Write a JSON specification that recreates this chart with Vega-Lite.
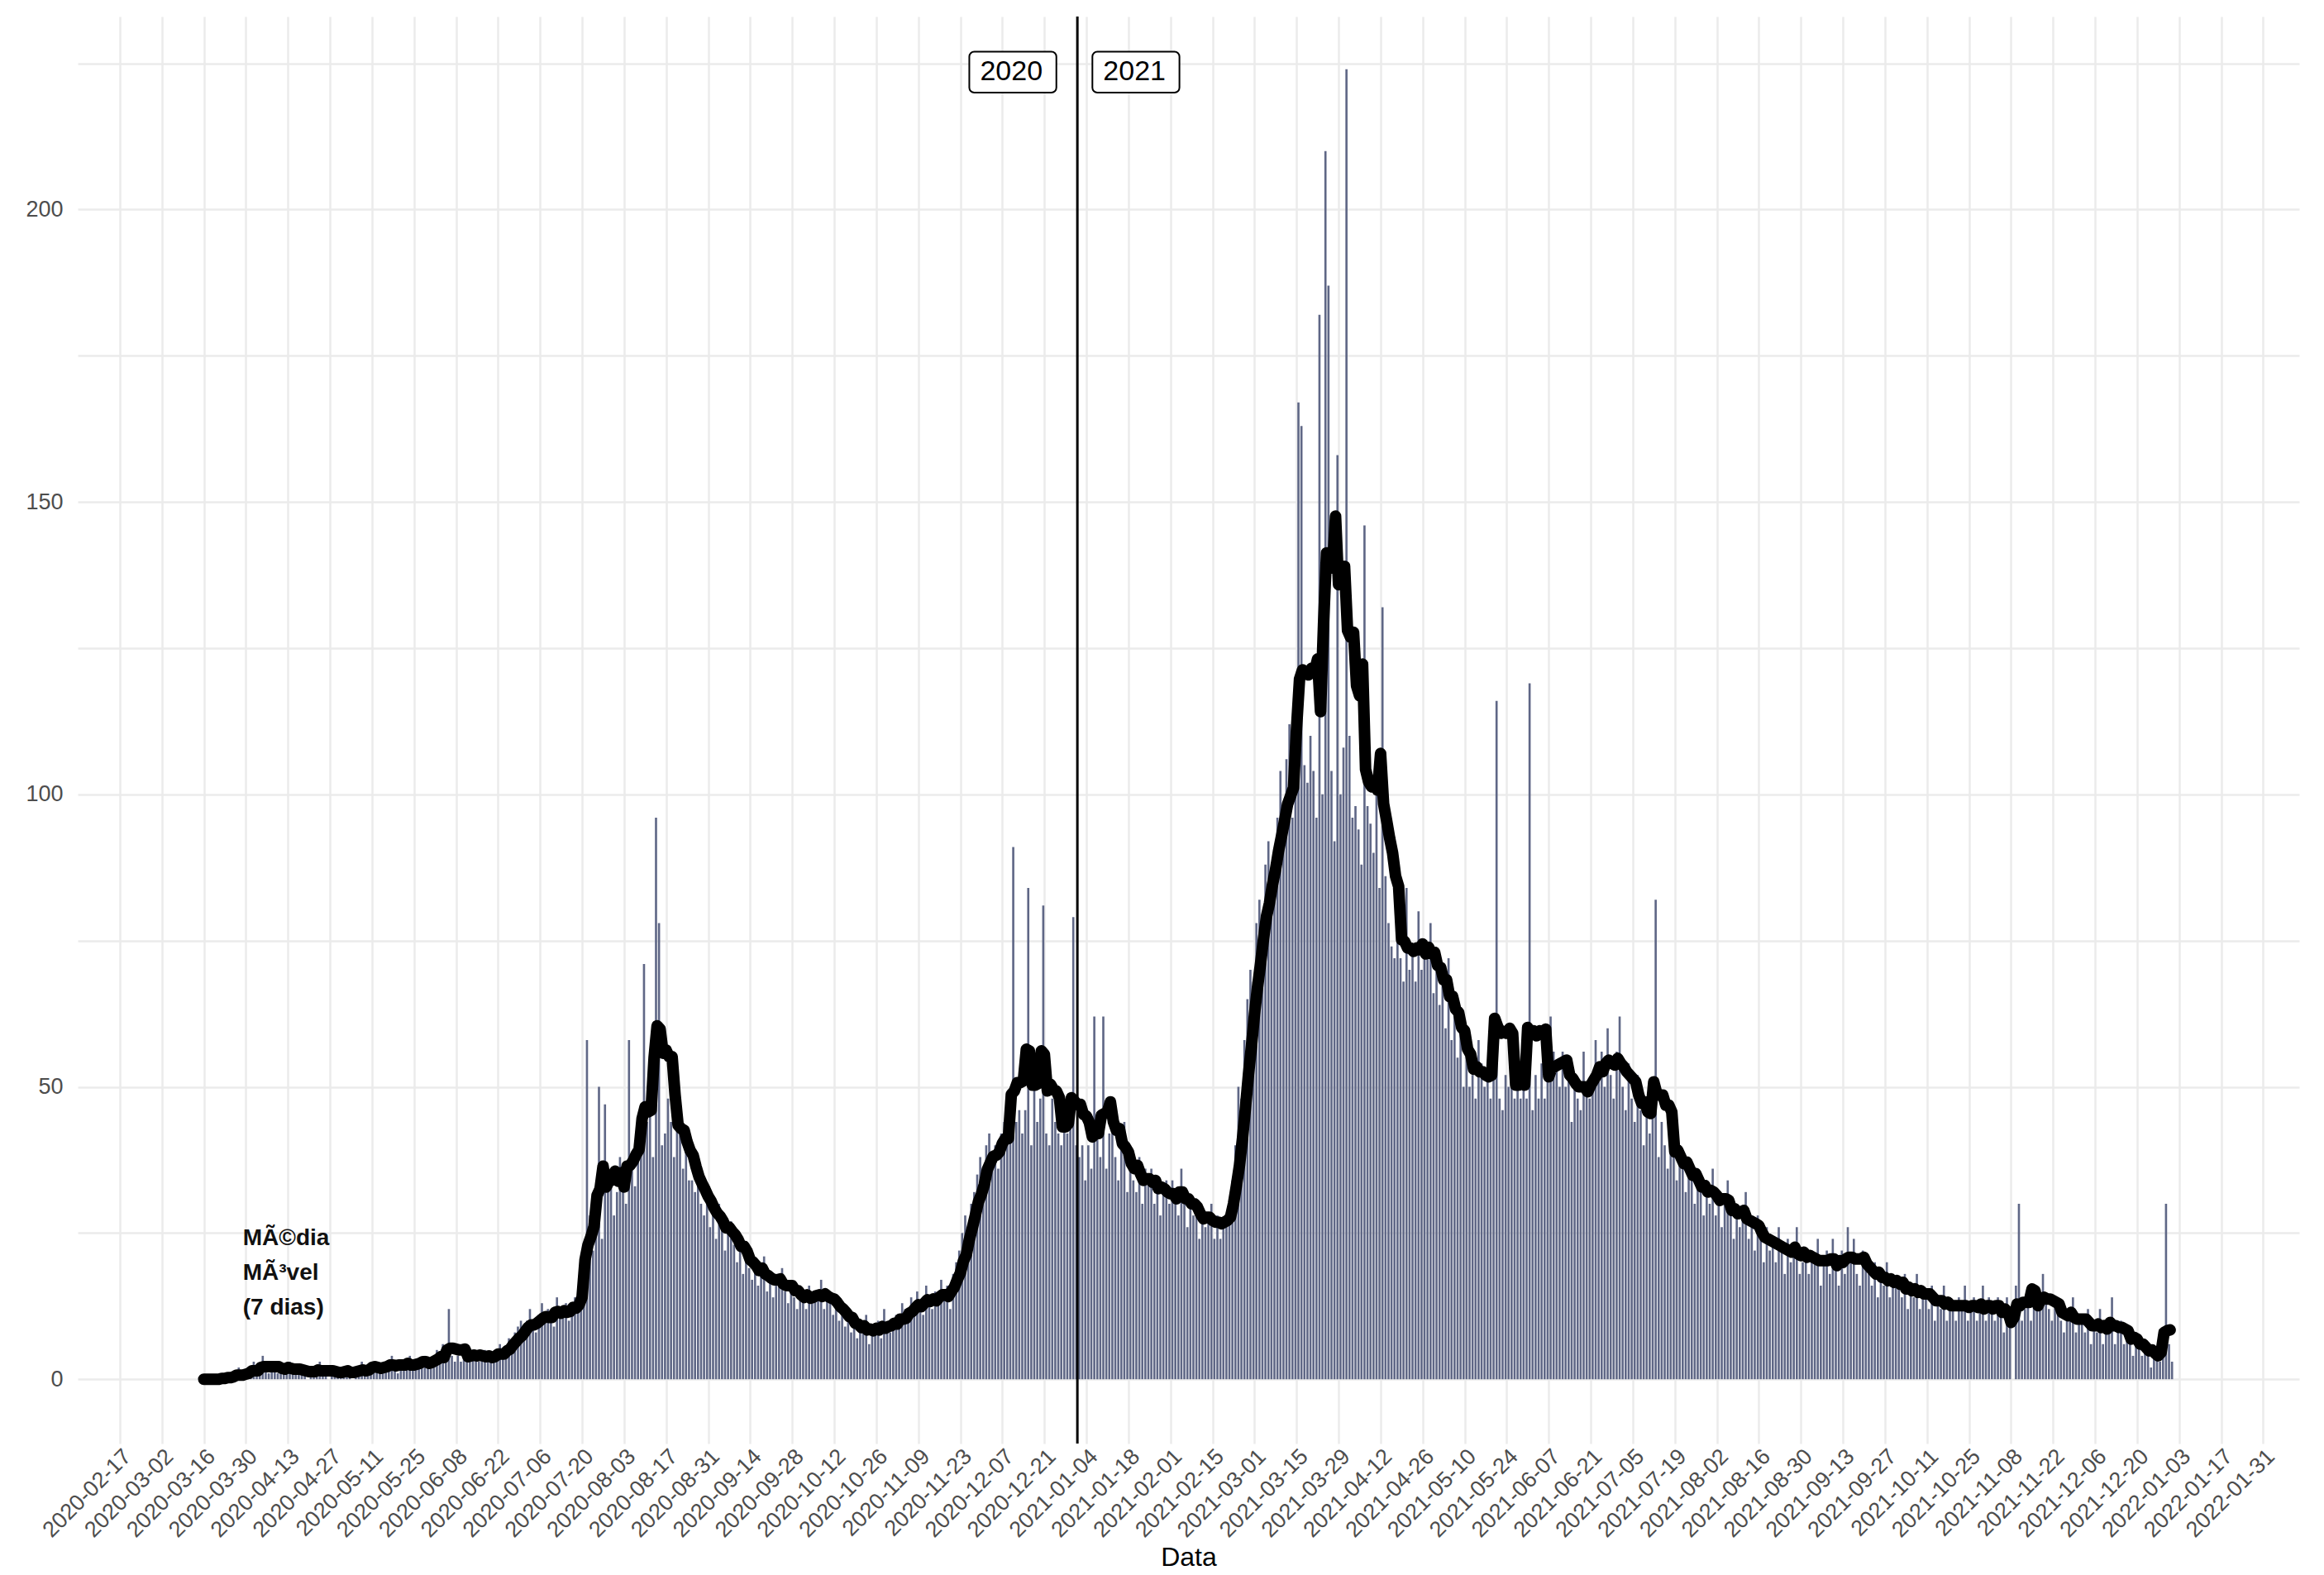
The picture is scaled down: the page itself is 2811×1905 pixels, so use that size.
{
  "$schema": "https://vega.github.io/schema/vega-lite/v6.json",
  "width": 2811,
  "height": 1905,
  "autosize": {"type": "fit", "contains": "padding"},
  "padding": {"left": 30, "right": 30, "top": 18, "bottom": 5},
  "background": "white",
  "config": {
    "view": {"stroke": null},
    "font": "Liberation Sans",
    "axis": {"gridColor": "#ebebeb", "gridWidth": 2.5, "domain": false, "ticks": false, "labelColor": "#4d4d4d", "labelFontSize": 27}
  },
  "datasets": {
    "daily": [
{"d":"2020-03-16","v":0},{"d":"2020-03-17","v":0},{"d":"2020-03-18","v":0},{"d":"2020-03-19","v":0},{"d":"2020-03-20","v":0},{"d":"2020-03-21","v":0},{"d":"2020-03-22","v":1},{"d":"2020-03-23","v":0},{"d":"2020-03-24","v":1},{"d":"2020-03-25","v":0},{"d":"2020-03-26","v":1},{"d":"2020-03-27","v":2},{"d":"2020-03-28","v":0},{"d":"2020-03-29","v":1},{"d":"2020-03-30","v":1},{"d":"2020-03-31","v":2},
{"d":"2020-04-01","v":3},{"d":"2020-04-02","v":1},{"d":"2020-04-03","v":2},{"d":"2020-04-04","v":4},{"d":"2020-04-05","v":2},{"d":"2020-04-06","v":1},{"d":"2020-04-07","v":2},{"d":"2020-04-08","v":3},{"d":"2020-04-09","v":1},{"d":"2020-04-10","v":2},{"d":"2020-04-11","v":2},{"d":"2020-04-12","v":1},{"d":"2020-04-13","v":3},{"d":"2020-04-14","v":1},{"d":"2020-04-15","v":2},{"d":"2020-04-16","v":1},{"d":"2020-04-17","v":2},{"d":"2020-04-18","v":1},{"d":"2020-04-19","v":0},{"d":"2020-04-20","v":2},{"d":"2020-04-21","v":1},{"d":"2020-04-22","v":2},{"d":"2020-04-23","v":3},{"d":"2020-04-24","v":1},{"d":"2020-04-25","v":1},{"d":"2020-04-26","v":0},{"d":"2020-04-27","v":2},{"d":"2020-04-28","v":1},{"d":"2020-04-29","v":1},{"d":"2020-04-30","v":2},
{"d":"2020-05-01","v":1},{"d":"2020-05-02","v":2},{"d":"2020-05-03","v":1},{"d":"2020-05-04","v":0},{"d":"2020-05-05","v":1},{"d":"2020-05-06","v":2},{"d":"2020-05-07","v":3},{"d":"2020-05-08","v":2},{"d":"2020-05-09","v":1},{"d":"2020-05-10","v":2},{"d":"2020-05-11","v":3},{"d":"2020-05-12","v":2},{"d":"2020-05-13","v":1},{"d":"2020-05-14","v":2},{"d":"2020-05-15","v":3},{"d":"2020-05-16","v":2},{"d":"2020-05-17","v":4},{"d":"2020-05-18","v":3},{"d":"2020-05-19","v":1},{"d":"2020-05-20","v":2},{"d":"2020-05-21","v":2},{"d":"2020-05-22","v":3},{"d":"2020-05-23","v":4},{"d":"2020-05-24","v":2},{"d":"2020-05-25","v":3},{"d":"2020-05-26","v":2},{"d":"2020-05-27","v":3},{"d":"2020-05-28","v":4},{"d":"2020-05-29","v":3},{"d":"2020-05-30","v":2},{"d":"2020-05-31","v":3},
{"d":"2020-06-01","v":5},{"d":"2020-06-02","v":4},{"d":"2020-06-03","v":6},{"d":"2020-06-04","v":3},{"d":"2020-06-05","v":12},{"d":"2020-06-06","v":4},{"d":"2020-06-07","v":3},{"d":"2020-06-08","v":4},{"d":"2020-06-09","v":3},{"d":"2020-06-10","v":6},{"d":"2020-06-11","v":4},{"d":"2020-06-12","v":3},{"d":"2020-06-13","v":5},{"d":"2020-06-14","v":4},{"d":"2020-06-15","v":3},{"d":"2020-06-16","v":4},{"d":"2020-06-17","v":5},{"d":"2020-06-18","v":3},{"d":"2020-06-19","v":4},{"d":"2020-06-20","v":3},{"d":"2020-06-21","v":5},{"d":"2020-06-22","v":6},{"d":"2020-06-23","v":4},{"d":"2020-06-24","v":5},{"d":"2020-06-25","v":7},{"d":"2020-06-26","v":6},{"d":"2020-06-27","v":8},{"d":"2020-06-28","v":9},{"d":"2020-06-29","v":10},{"d":"2020-06-30","v":7},
{"d":"2020-07-01","v":10},{"d":"2020-07-02","v":12},{"d":"2020-07-03","v":9},{"d":"2020-07-04","v":8},{"d":"2020-07-05","v":11},{"d":"2020-07-06","v":13},{"d":"2020-07-07","v":10},{"d":"2020-07-08","v":12},{"d":"2020-07-09","v":11},{"d":"2020-07-10","v":9},{"d":"2020-07-11","v":14},{"d":"2020-07-12","v":12},{"d":"2020-07-13","v":11},{"d":"2020-07-14","v":13},{"d":"2020-07-15","v":10},{"d":"2020-07-16","v":12},{"d":"2020-07-17","v":14},{"d":"2020-07-18","v":13},{"d":"2020-07-19","v":16},{"d":"2020-07-20","v":20},{"d":"2020-07-21","v":58},{"d":"2020-07-22","v":28},{"d":"2020-07-23","v":22},{"d":"2020-07-24","v":26},{"d":"2020-07-25","v":50},{"d":"2020-07-26","v":24},{"d":"2020-07-27","v":47},{"d":"2020-07-28","v":33},{"d":"2020-07-29","v":35},{"d":"2020-07-30","v":28},{"d":"2020-07-31","v":32},
{"d":"2020-08-01","v":38},{"d":"2020-08-02","v":34},{"d":"2020-08-03","v":30},{"d":"2020-08-04","v":58},{"d":"2020-08-05","v":36},{"d":"2020-08-06","v":33},{"d":"2020-08-07","v":40},{"d":"2020-08-08","v":44},{"d":"2020-08-09","v":71},{"d":"2020-08-10","v":44},{"d":"2020-08-11","v":52},{"d":"2020-08-12","v":38},{"d":"2020-08-13","v":96},{"d":"2020-08-14","v":78},{"d":"2020-08-15","v":40},{"d":"2020-08-16","v":42},{"d":"2020-08-17","v":48},{"d":"2020-08-18","v":44},{"d":"2020-08-19","v":38},{"d":"2020-08-20","v":50},{"d":"2020-08-21","v":42},{"d":"2020-08-22","v":36},{"d":"2020-08-23","v":40},{"d":"2020-08-24","v":34},{"d":"2020-08-25","v":34},{"d":"2020-08-26","v":32},{"d":"2020-08-27","v":36},{"d":"2020-08-28","v":30},{"d":"2020-08-29","v":28},{"d":"2020-08-30","v":33},{"d":"2020-08-31","v":26},
{"d":"2020-09-01","v":28},{"d":"2020-09-02","v":24},{"d":"2020-09-03","v":30},{"d":"2020-09-04","v":26},{"d":"2020-09-05","v":22},{"d":"2020-09-06","v":25},{"d":"2020-09-07","v":27},{"d":"2020-09-08","v":23},{"d":"2020-09-09","v":20},{"d":"2020-09-10","v":24},{"d":"2020-09-11","v":18},{"d":"2020-09-12","v":22},{"d":"2020-09-13","v":19},{"d":"2020-09-14","v":17},{"d":"2020-09-15","v":20},{"d":"2020-09-16","v":16},{"d":"2020-09-17","v":18},{"d":"2020-09-18","v":21},{"d":"2020-09-19","v":15},{"d":"2020-09-20","v":17},{"d":"2020-09-21","v":14},{"d":"2020-09-22","v":18},{"d":"2020-09-23","v":16},{"d":"2020-09-24","v":19},{"d":"2020-09-25","v":15},{"d":"2020-09-26","v":13},{"d":"2020-09-27","v":17},{"d":"2020-09-28","v":14},{"d":"2020-09-29","v":12},{"d":"2020-09-30","v":16},
{"d":"2020-10-01","v":14},{"d":"2020-10-02","v":12},{"d":"2020-10-03","v":16},{"d":"2020-10-04","v":13},{"d":"2020-10-05","v":15},{"d":"2020-10-06","v":14},{"d":"2020-10-07","v":17},{"d":"2020-10-08","v":12},{"d":"2020-10-09","v":15},{"d":"2020-10-10","v":13},{"d":"2020-10-11","v":11},{"d":"2020-10-12","v":14},{"d":"2020-10-13","v":10},{"d":"2020-10-14","v":12},{"d":"2020-10-15","v":9},{"d":"2020-10-16","v":11},{"d":"2020-10-17","v":8},{"d":"2020-10-18","v":10},{"d":"2020-10-19","v":7},{"d":"2020-10-20","v":9},{"d":"2020-10-21","v":8},{"d":"2020-10-22","v":11},{"d":"2020-10-23","v":6},{"d":"2020-10-24","v":9},{"d":"2020-10-25","v":8},{"d":"2020-10-26","v":10},{"d":"2020-10-27","v":7},{"d":"2020-10-28","v":12},{"d":"2020-10-29","v":9},{"d":"2020-10-30","v":8},{"d":"2020-10-31","v":10},
{"d":"2020-11-01","v":11},{"d":"2020-11-02","v":9},{"d":"2020-11-03","v":13},{"d":"2020-11-04","v":12},{"d":"2020-11-05","v":10},{"d":"2020-11-06","v":14},{"d":"2020-11-07","v":12},{"d":"2020-11-08","v":15},{"d":"2020-11-09","v":13},{"d":"2020-11-10","v":11},{"d":"2020-11-11","v":16},{"d":"2020-11-12","v":14},{"d":"2020-11-13","v":12},{"d":"2020-11-14","v":15},{"d":"2020-11-15","v":13},{"d":"2020-11-16","v":17},{"d":"2020-11-17","v":14},{"d":"2020-11-18","v":16},{"d":"2020-11-19","v":12},{"d":"2020-11-20","v":18},{"d":"2020-11-21","v":20},{"d":"2020-11-22","v":22},{"d":"2020-11-23","v":25},{"d":"2020-11-24","v":28},{"d":"2020-11-25","v":24},{"d":"2020-11-26","v":30},{"d":"2020-11-27","v":32},{"d":"2020-11-28","v":35},{"d":"2020-11-29","v":38},{"d":"2020-11-30","v":34},
{"d":"2020-12-01","v":40},{"d":"2020-12-02","v":42},{"d":"2020-12-03","v":38},{"d":"2020-12-04","v":40},{"d":"2020-12-05","v":36},{"d":"2020-12-06","v":42},{"d":"2020-12-07","v":44},{"d":"2020-12-08","v":46},{"d":"2020-12-09","v":42},{"d":"2020-12-10","v":91},{"d":"2020-12-11","v":44},{"d":"2020-12-12","v":46},{"d":"2020-12-13","v":42},{"d":"2020-12-14","v":46},{"d":"2020-12-15","v":84},{"d":"2020-12-16","v":40},{"d":"2020-12-17","v":50},{"d":"2020-12-18","v":44},{"d":"2020-12-19","v":48},{"d":"2020-12-20","v":81},{"d":"2020-12-21","v":42},{"d":"2020-12-22","v":40},{"d":"2020-12-23","v":48},{"d":"2020-12-24","v":44},{"d":"2020-12-25","v":42},{"d":"2020-12-26","v":40},{"d":"2020-12-27","v":46},{"d":"2020-12-28","v":42},{"d":"2020-12-29","v":44},{"d":"2020-12-30","v":79},{"d":"2020-12-31","v":40},
{"d":"2021-01-01","v":38},{"d":"2021-01-02","v":40},{"d":"2021-01-03","v":34},{"d":"2021-01-04","v":40},{"d":"2021-01-05","v":36},{"d":"2021-01-06","v":62},{"d":"2021-01-07","v":44},{"d":"2021-01-08","v":38},{"d":"2021-01-09","v":62},{"d":"2021-01-10","v":36},{"d":"2021-01-11","v":42},{"d":"2021-01-12","v":48},{"d":"2021-01-13","v":38},{"d":"2021-01-14","v":34},{"d":"2021-01-15","v":40},{"d":"2021-01-16","v":44},{"d":"2021-01-17","v":32},{"d":"2021-01-18","v":36},{"d":"2021-01-19","v":34},{"d":"2021-01-20","v":32},{"d":"2021-01-21","v":38},{"d":"2021-01-22","v":30},{"d":"2021-01-23","v":36},{"d":"2021-01-24","v":34},{"d":"2021-01-25","v":36},{"d":"2021-01-26","v":30},{"d":"2021-01-27","v":34},{"d":"2021-01-28","v":28},{"d":"2021-01-29","v":32},{"d":"2021-01-30","v":34},{"d":"2021-01-31","v":30},
{"d":"2021-02-01","v":34},{"d":"2021-02-02","v":30},{"d":"2021-02-03","v":28},{"d":"2021-02-04","v":36},{"d":"2021-02-05","v":32},{"d":"2021-02-06","v":26},{"d":"2021-02-07","v":30},{"d":"2021-02-08","v":28},{"d":"2021-02-09","v":30},{"d":"2021-02-10","v":24},{"d":"2021-02-11","v":28},{"d":"2021-02-12","v":26},{"d":"2021-02-13","v":28},{"d":"2021-02-14","v":30},{"d":"2021-02-15","v":24},{"d":"2021-02-16","v":28},{"d":"2021-02-17","v":24},{"d":"2021-02-18","v":26},{"d":"2021-02-19","v":28},{"d":"2021-02-20","v":30},{"d":"2021-02-21","v":34},{"d":"2021-02-22","v":40},{"d":"2021-02-23","v":50},{"d":"2021-02-24","v":48},{"d":"2021-02-25","v":58},{"d":"2021-02-26","v":65},{"d":"2021-02-27","v":70},{"d":"2021-02-28","v":68},
{"d":"2021-03-01","v":78},{"d":"2021-03-02","v":82},{"d":"2021-03-03","v":76},{"d":"2021-03-04","v":88},{"d":"2021-03-05","v":92},{"d":"2021-03-06","v":86},{"d":"2021-03-07","v":90},{"d":"2021-03-08","v":96},{"d":"2021-03-09","v":104},{"d":"2021-03-10","v":94},{"d":"2021-03-11","v":106},{"d":"2021-03-12","v":112},{"d":"2021-03-13","v":96},{"d":"2021-03-14","v":100},{"d":"2021-03-15","v":167},{"d":"2021-03-16","v":163},{"d":"2021-03-17","v":105},{"d":"2021-03-18","v":102},{"d":"2021-03-19","v":110},{"d":"2021-03-20","v":104},{"d":"2021-03-21","v":96},{"d":"2021-03-22","v":182},{"d":"2021-03-23","v":100},{"d":"2021-03-24","v":210},{"d":"2021-03-25","v":187},{"d":"2021-03-26","v":104},{"d":"2021-03-27","v":92},{"d":"2021-03-28","v":158},{"d":"2021-03-29","v":100},{"d":"2021-03-30","v":108},{"d":"2021-03-31","v":224},
{"d":"2021-04-01","v":110},{"d":"2021-04-02","v":96},{"d":"2021-04-03","v":98},{"d":"2021-04-04","v":94},{"d":"2021-04-05","v":88},{"d":"2021-04-06","v":146},{"d":"2021-04-07","v":98},{"d":"2021-04-08","v":95},{"d":"2021-04-09","v":90},{"d":"2021-04-10","v":104},{"d":"2021-04-11","v":84},{"d":"2021-04-12","v":132},{"d":"2021-04-13","v":86},{"d":"2021-04-14","v":78},{"d":"2021-04-15","v":74},{"d":"2021-04-16","v":72},{"d":"2021-04-17","v":76},{"d":"2021-04-18","v":72},{"d":"2021-04-19","v":68},{"d":"2021-04-20","v":84},{"d":"2021-04-21","v":70},{"d":"2021-04-22","v":74},{"d":"2021-04-23","v":68},{"d":"2021-04-24","v":80},{"d":"2021-04-25","v":70},{"d":"2021-04-26","v":75},{"d":"2021-04-27","v":72},{"d":"2021-04-28","v":78},{"d":"2021-04-29","v":66},{"d":"2021-04-30","v":70},
{"d":"2021-05-01","v":64},{"d":"2021-05-02","v":68},{"d":"2021-05-03","v":60},{"d":"2021-05-04","v":72},{"d":"2021-05-05","v":58},{"d":"2021-05-06","v":66},{"d":"2021-05-07","v":55},{"d":"2021-05-08","v":60},{"d":"2021-05-09","v":50},{"d":"2021-05-10","v":56},{"d":"2021-05-11","v":50},{"d":"2021-05-12","v":52},{"d":"2021-05-13","v":48},{"d":"2021-05-14","v":58},{"d":"2021-05-15","v":54},{"d":"2021-05-16","v":50},{"d":"2021-05-17","v":52},{"d":"2021-05-18","v":48},{"d":"2021-05-19","v":54},{"d":"2021-05-20","v":116},{"d":"2021-05-21","v":48},{"d":"2021-05-22","v":46},{"d":"2021-05-23","v":52},{"d":"2021-05-24","v":50},{"d":"2021-05-25","v":54},{"d":"2021-05-26","v":48},{"d":"2021-05-27","v":54},{"d":"2021-05-28","v":48},{"d":"2021-05-29","v":50},{"d":"2021-05-30","v":48},{"d":"2021-05-31","v":119},
{"d":"2021-06-01","v":46},{"d":"2021-06-02","v":52},{"d":"2021-06-03","v":48},{"d":"2021-06-04","v":54},{"d":"2021-06-05","v":48},{"d":"2021-06-06","v":52},{"d":"2021-06-07","v":62},{"d":"2021-06-08","v":56},{"d":"2021-06-09","v":54},{"d":"2021-06-10","v":50},{"d":"2021-06-11","v":56},{"d":"2021-06-12","v":50},{"d":"2021-06-13","v":54},{"d":"2021-06-14","v":44},{"d":"2021-06-15","v":52},{"d":"2021-06-16","v":48},{"d":"2021-06-17","v":46},{"d":"2021-06-18","v":56},{"d":"2021-06-19","v":50},{"d":"2021-06-20","v":48},{"d":"2021-06-21","v":52},{"d":"2021-06-22","v":58},{"d":"2021-06-23","v":54},{"d":"2021-06-24","v":56},{"d":"2021-06-25","v":50},{"d":"2021-06-26","v":60},{"d":"2021-06-27","v":52},{"d":"2021-06-28","v":48},{"d":"2021-06-29","v":56},{"d":"2021-06-30","v":62},
{"d":"2021-07-01","v":50},{"d":"2021-07-02","v":46},{"d":"2021-07-03","v":54},{"d":"2021-07-04","v":48},{"d":"2021-07-05","v":44},{"d":"2021-07-06","v":52},{"d":"2021-07-07","v":46},{"d":"2021-07-08","v":40},{"d":"2021-07-09","v":48},{"d":"2021-07-10","v":42},{"d":"2021-07-11","v":46},{"d":"2021-07-12","v":82},{"d":"2021-07-13","v":38},{"d":"2021-07-14","v":44},{"d":"2021-07-15","v":40},{"d":"2021-07-16","v":36},{"d":"2021-07-17","v":42},{"d":"2021-07-18","v":38},{"d":"2021-07-19","v":34},{"d":"2021-07-20","v":40},{"d":"2021-07-21","v":36},{"d":"2021-07-22","v":32},{"d":"2021-07-23","v":38},{"d":"2021-07-24","v":34},{"d":"2021-07-25","v":30},{"d":"2021-07-26","v":36},{"d":"2021-07-27","v":32},{"d":"2021-07-28","v":28},{"d":"2021-07-29","v":34},{"d":"2021-07-30","v":30},{"d":"2021-07-31","v":36},
{"d":"2021-08-01","v":28},{"d":"2021-08-02","v":32},{"d":"2021-08-03","v":26},{"d":"2021-08-04","v":30},{"d":"2021-08-05","v":34},{"d":"2021-08-06","v":28},{"d":"2021-08-07","v":24},{"d":"2021-08-08","v":30},{"d":"2021-08-09","v":26},{"d":"2021-08-10","v":28},{"d":"2021-08-11","v":32},{"d":"2021-08-12","v":24},{"d":"2021-08-13","v":26},{"d":"2021-08-14","v":22},{"d":"2021-08-15","v":28},{"d":"2021-08-16","v":24},{"d":"2021-08-17","v":20},{"d":"2021-08-18","v":26},{"d":"2021-08-19","v":22},{"d":"2021-08-20","v":24},{"d":"2021-08-21","v":20},{"d":"2021-08-22","v":26},{"d":"2021-08-23","v":22},{"d":"2021-08-24","v":18},{"d":"2021-08-25","v":24},{"d":"2021-08-26","v":20},{"d":"2021-08-27","v":22},{"d":"2021-08-28","v":26},{"d":"2021-08-29","v":18},{"d":"2021-08-30","v":20},{"d":"2021-08-31","v":22},
{"d":"2021-09-01","v":18},{"d":"2021-09-02","v":22},{"d":"2021-09-03","v":20},{"d":"2021-09-04","v":24},{"d":"2021-09-05","v":16},{"d":"2021-09-06","v":20},{"d":"2021-09-07","v":22},{"d":"2021-09-08","v":18},{"d":"2021-09-09","v":24},{"d":"2021-09-10","v":20},{"d":"2021-09-11","v":16},{"d":"2021-09-12","v":22},{"d":"2021-09-13","v":18},{"d":"2021-09-14","v":26},{"d":"2021-09-15","v":20},{"d":"2021-09-16","v":24},{"d":"2021-09-17","v":18},{"d":"2021-09-18","v":16},{"d":"2021-09-19","v":22},{"d":"2021-09-20","v":20},{"d":"2021-09-21","v":18},{"d":"2021-09-22","v":16},{"d":"2021-09-23","v":20},{"d":"2021-09-24","v":14},{"d":"2021-09-25","v":18},{"d":"2021-09-26","v":16},{"d":"2021-09-27","v":20},{"d":"2021-09-28","v":14},{"d":"2021-09-29","v":18},{"d":"2021-09-30","v":16},
{"d":"2021-10-01","v":16},{"d":"2021-10-02","v":14},{"d":"2021-10-03","v":18},{"d":"2021-10-04","v":12},{"d":"2021-10-05","v":16},{"d":"2021-10-06","v":14},{"d":"2021-10-07","v":18},{"d":"2021-10-08","v":12},{"d":"2021-10-09","v":16},{"d":"2021-10-10","v":14},{"d":"2021-10-11","v":12},{"d":"2021-10-12","v":16},{"d":"2021-10-13","v":10},{"d":"2021-10-14","v":14},{"d":"2021-10-15","v":12},{"d":"2021-10-16","v":16},{"d":"2021-10-17","v":10},{"d":"2021-10-18","v":14},{"d":"2021-10-19","v":12},{"d":"2021-10-20","v":10},{"d":"2021-10-21","v":14},{"d":"2021-10-22","v":12},{"d":"2021-10-23","v":16},{"d":"2021-10-24","v":10},{"d":"2021-10-25","v":12},{"d":"2021-10-26","v":14},{"d":"2021-10-27","v":10},{"d":"2021-10-28","v":12},{"d":"2021-10-29","v":16},{"d":"2021-10-30","v":10},{"d":"2021-10-31","v":14},
{"d":"2021-11-01","v":12},{"d":"2021-11-02","v":10},{"d":"2021-11-03","v":14},{"d":"2021-11-04","v":12},{"d":"2021-11-05","v":8},{"d":"2021-11-06","v":14},{"d":"2021-11-07","v":10},{"d":"2021-11-08","v":0},{"d":"2021-11-09","v":16},{"d":"2021-11-10","v":30},{"d":"2021-11-11","v":10},{"d":"2021-11-12","v":12},{"d":"2021-11-13","v":14},{"d":"2021-11-14","v":10},{"d":"2021-11-15","v":16},{"d":"2021-11-16","v":14},{"d":"2021-11-17","v":12},{"d":"2021-11-18","v":18},{"d":"2021-11-19","v":14},{"d":"2021-11-20","v":12},{"d":"2021-11-21","v":10},{"d":"2021-11-22","v":14},{"d":"2021-11-23","v":12},{"d":"2021-11-24","v":10},{"d":"2021-11-25","v":8},{"d":"2021-11-26","v":12},{"d":"2021-11-27","v":10},{"d":"2021-11-28","v":14},{"d":"2021-11-29","v":8},{"d":"2021-11-30","v":10},
{"d":"2021-12-01","v":10},{"d":"2021-12-02","v":8},{"d":"2021-12-03","v":12},{"d":"2021-12-04","v":6},{"d":"2021-12-05","v":10},{"d":"2021-12-06","v":8},{"d":"2021-12-07","v":12},{"d":"2021-12-08","v":6},{"d":"2021-12-09","v":10},{"d":"2021-12-10","v":8},{"d":"2021-12-11","v":14},{"d":"2021-12-12","v":6},{"d":"2021-12-13","v":8},{"d":"2021-12-14","v":10},{"d":"2021-12-15","v":6},{"d":"2021-12-16","v":8},{"d":"2021-12-17","v":6},{"d":"2021-12-18","v":4},{"d":"2021-12-19","v":8},{"d":"2021-12-20","v":6},{"d":"2021-12-21","v":4},{"d":"2021-12-22","v":6},{"d":"2021-12-23","v":4},{"d":"2021-12-24","v":2},{"d":"2021-12-25","v":5},{"d":"2021-12-26","v":4},{"d":"2021-12-27","v":3},{"d":"2021-12-28","v":8},{"d":"2021-12-29","v":30},{"d":"2021-12-30","v":6},{"d":"2021-12-31","v":3}
    ],
    "years": [
      {"label": "2020", "x": "2020-11-26", "x2": "2020-12-25", "xc": "2020-12-10"},
      {"label": "2021", "x": "2021-01-06", "x2": "2021-02-04", "xc": "2021-01-20"}
    ]
  },
  "layer": [
    {
      "data": {"name": "daily"},
      "mark": {"type": "bar", "color": "#5f6786"},
      "encoding": {
        "x": {
          "field": "d", "type": "temporal", "timeUnit": "utcyearmonthdate",
          "scale": {"type": "utc", "domain": ["2020-02-03", "2022-02-12"]},
          "title": "Data",
          "axis": {
            "labelExpr": "utcFormat(datum.value, '%Y-%m-%d')", "labelAngle": -45, "labelAlign": "right", "labelBaseline": "top",
            "labelOverlap": false, "labelFlush": false,
            "titleFontSize": 32, "titleFontWeight": "normal", "titleColor": "#000", "labelFontSize": 27,
            "values": [
              {"year":2020,"month":2,"date":17,"utc":true},{"year":2020,"month":3,"date":2,"utc":true},{"year":2020,"month":3,"date":16,"utc":true},{"year":2020,"month":3,"date":30,"utc":true},
              {"year":2020,"month":4,"date":13,"utc":true},{"year":2020,"month":4,"date":27,"utc":true},{"year":2020,"month":5,"date":11,"utc":true},{"year":2020,"month":5,"date":25,"utc":true},
              {"year":2020,"month":6,"date":8,"utc":true},{"year":2020,"month":6,"date":22,"utc":true},{"year":2020,"month":7,"date":6,"utc":true},{"year":2020,"month":7,"date":20,"utc":true},
              {"year":2020,"month":8,"date":3,"utc":true},{"year":2020,"month":8,"date":17,"utc":true},{"year":2020,"month":8,"date":31,"utc":true},{"year":2020,"month":9,"date":14,"utc":true},
              {"year":2020,"month":9,"date":28,"utc":true},{"year":2020,"month":10,"date":12,"utc":true},{"year":2020,"month":10,"date":26,"utc":true},{"year":2020,"month":11,"date":9,"utc":true},
              {"year":2020,"month":11,"date":23,"utc":true},{"year":2020,"month":12,"date":7,"utc":true},{"year":2020,"month":12,"date":21,"utc":true},{"year":2021,"month":1,"date":4,"utc":true},
              {"year":2021,"month":1,"date":18,"utc":true},{"year":2021,"month":2,"date":1,"utc":true},{"year":2021,"month":2,"date":15,"utc":true},{"year":2021,"month":3,"date":1,"utc":true},
              {"year":2021,"month":3,"date":15,"utc":true},{"year":2021,"month":3,"date":29,"utc":true},{"year":2021,"month":4,"date":12,"utc":true},{"year":2021,"month":4,"date":26,"utc":true},
              {"year":2021,"month":5,"date":10,"utc":true},{"year":2021,"month":5,"date":24,"utc":true},{"year":2021,"month":6,"date":7,"utc":true},{"year":2021,"month":6,"date":21,"utc":true},
              {"year":2021,"month":7,"date":5,"utc":true},{"year":2021,"month":7,"date":19,"utc":true},{"year":2021,"month":8,"date":2,"utc":true},{"year":2021,"month":8,"date":16,"utc":true},
              {"year":2021,"month":8,"date":30,"utc":true},{"year":2021,"month":9,"date":13,"utc":true},{"year":2021,"month":9,"date":27,"utc":true},{"year":2021,"month":10,"date":11,"utc":true},
              {"year":2021,"month":10,"date":25,"utc":true},{"year":2021,"month":11,"date":8,"utc":true},{"year":2021,"month":11,"date":22,"utc":true},{"year":2021,"month":12,"date":6,"utc":true},
              {"year":2021,"month":12,"date":20,"utc":true},{"year":2022,"month":1,"date":3,"utc":true},{"year":2022,"month":1,"date":17,"utc":true},{"year":2022,"month":1,"date":31,"utc":true}
            ]
          }
        },
        "y": {
          "field": "v", "type": "quantitative",
          "scale": {"domain": [-11, 233], "nice": false, "zero": false},
          "title": null,
          "axis": {"values": [0, 25, 50, 75, 100, 125, 150, 175, 200, 225], "labelExpr": "datum.value % 50 == 0 ? datum.label : ''", "labelPadding": 18}
        }
      }
    },
    {
      "data": {"name": "daily"},
      "transform": [
        {"window": [{"op": "mean", "field": "v", "as": "m"}], "frame": [-6, 0], "sort": [{"field": "d"}]}
      ],
      "mark": {"type": "line", "color": "#000", "strokeWidth": 14, "strokeJoin": "round", "strokeCap": "round"},
      "encoding": {"x": {"field": "d", "type": "temporal", "timeUnit": "utcyearmonthdate"}, "y": {"field": "m", "type": "quantitative"}}
    },
    {
      "data": {"values": [{}]},
      "mark": {"type": "rule", "color": "#000", "strokeWidth": 3},
      "encoding": {"x": {"datum": {"year": 2021, "month": 1, "date": 1, "utc": true}, "type": "temporal"}, "y": {"datum": -11}, "y2": {"datum": 233}}
    },
    {
      "data": {"name": "years"},
      "mark": {"type": "rect", "fill": "white", "stroke": "#000", "strokeWidth": 2, "cornerRadius": 6},
      "encoding": {"x": {"field": "x", "type": "temporal"}, "x2": {"field": "x2"}, "y": {"datum": 227}, "y2": {"datum": 220}}
    },
    {
      "data": {"name": "years"},
      "mark": {"type": "text", "fontSize": 34, "color": "#000", "baseline": "middle"},
      "encoding": {"x": {"field": "xc", "type": "temporal"}, "y": {"datum": 223.5}, "text": {"field": "label"}}
    },
    {
      "data": {"values": [{"t": "MÃ©dia\nMÃ³vel\n(7 dias)"}]},
      "mark": {"type": "text", "fontSize": 28, "fontWeight": "bold", "align": "left", "baseline": "top", "color": "#111", "lineBreak": "\n", "lineHeight": 42},
      "encoding": {
        "x": {"datum": {"year": 2020, "month": 3, "date": 29, "utc": true}, "type": "temporal"},
        "y": {"datum": 26},
        "text": {"field": "t"}
      }
    }
  ]
}
